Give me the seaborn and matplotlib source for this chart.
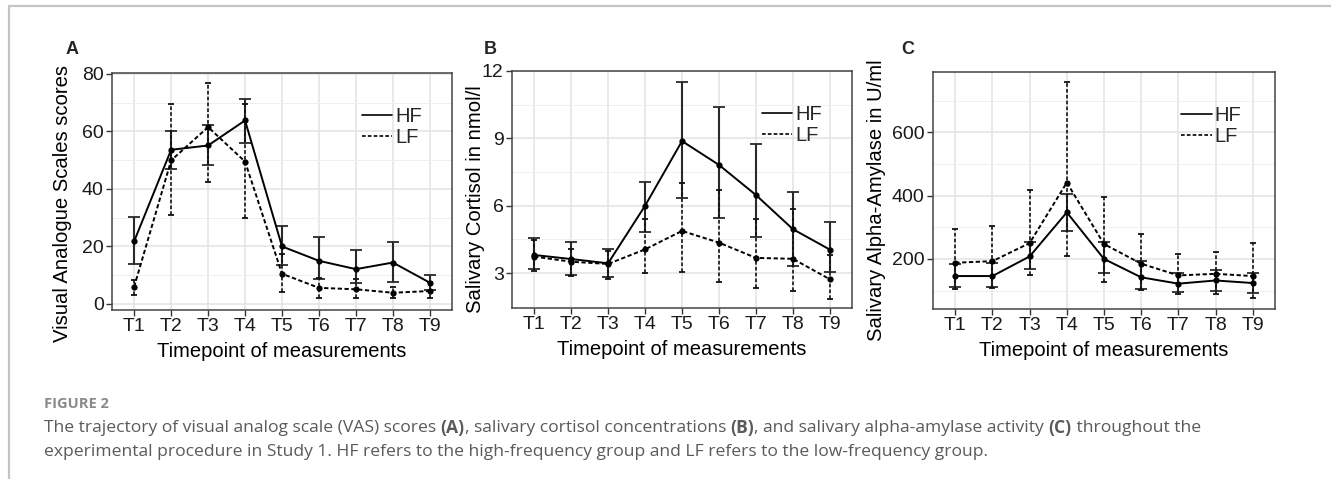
import numpy as np
import pandas as pd
import seaborn as sns
import matplotlib.pyplot as plt
from matplotlib.ticker import FixedLocator

timepoints = ["T1", "T2", "T3", "T4", "T5", "T6", "T7", "T8", "T9"]
groups = ["HF", "LF"]

# VAS scores (A)
vas_hf = [21.8, 53.6, 55.1, 63.8, 20.0, 15.0, 12.1, 14.4, 7.4]
vas_hf_lo = [13.9, 47.0, 48.4, 55.8, 13.5, 8.8, 7.4, 7.8, 4.7]
vas_hf_hi = [30.4, 60.2, 62.3, 71.2, 27.0, 23.3, 18.6, 21.4, 10.1]
vas_lf = [6.0, 49.9, 61.5, 49.5, 10.5, 5.6, 5.1, 3.9, 4.5]
vas_lf_lo = [3.2, 31.0, 42.3, 29.8, 4.0, 2.2, 2.0, 2.0, 1.9]
vas_lf_hi = [8.4, 69.4, 76.9, 69.6, 17.3, 9.0, 8.6, 5.8, 7.6]

# salivary cortisol (B)
cort_hf = [3.81, 3.63, 3.44, 6.0, 8.88, 7.82, 6.48, 4.96, 4.05]
cort_hf_lo = [3.17, 2.92, 2.82, 4.85, 6.36, 5.44, 4.63, 3.3, 3.06]
cort_hf_hi = [4.55, 4.38, 4.06, 7.08, 11.52, 10.41, 8.74, 6.62, 5.28]
cort_lf = [3.74, 3.51, 3.41, 4.06, 4.88, 4.36, 3.68, 3.64, 2.73]
cort_lf_lo = [3.11, 2.88, 2.75, 3.02, 3.05, 2.62, 2.33, 2.21, 1.87]
cort_lf_hi = [4.48, 4.08, 3.98, 5.4, 7.03, 6.7, 5.42, 5.84, 3.83]

# salivary alpha-amylase (C)
amy_hf = [146, 146, 208, 347, 200, 142, 122, 132, 124]
amy_hf_lo = [111, 113, 167, 289, 155, 106, 97, 99, 93]
amy_hf_hi = [185, 186, 255, 404, 255, 193, 156, 164, 156]
amy_lf = [188, 193, 250, 441, 247, 185, 148, 153, 146]
amy_lf_lo = [104, 109, 148, 210, 127, 102, 89, 89, 76]
amy_lf_hi = [294, 305, 416, 757, 394, 279, 217, 221, 250]

panels = [
    ("A", "Visual Analogue Scales scores",
     (vas_hf, vas_hf_lo, vas_hf_hi), (vas_lf, vas_lf_lo, vas_lf_hi),
     (-2.1, 80.3), [0, 20, 40, 60, 80], [10, 30, 50, 70]),
    ("B", "Salivary Cortisol in nmol/l",
     (cort_hf, cort_hf_lo, cort_hf_hi), (cort_lf, cort_lf_lo, cort_lf_hi),
     (1.45, 12.0), [3, 6, 9, 12], [4.5, 7.5, 10.5]),
    ("C", "Salivary Alpha-Amylase in U/ml",
     (amy_hf, amy_hf_lo, amy_hf_hi), (amy_lf, amy_lf_lo, amy_lf_hi),
     (42, 790), [200, 400, 600], [100, 300, 500, 700]),
]

sns.set_theme(style="white")
plt.rcParams["font.family"] = ["Liberation Sans", "DejaVu Sans"]

W, H = 1331, 479
fig = plt.figure(figsize=(W / 100, H / 100), dpi=100)

boxes = [(112, 73, 452, 310), (512, 71, 852, 308), (933, 72, 1275, 309)]
letter_x = [72, 490, 908]
legend_anchor = [(0.935, 0.89), (0.935, 0.89), (0.925, 0.89)]
ylabel_xy = [(-0.118, 0.45), (-0.08, 0.46), (-0.138, 0.46)]

for (letter, ylab, hf, lf, ylim, yt, ymin), (x0, y0, x1, y1), lx, anc, lxy in zip(
        panels, boxes, letter_x, legend_anchor, ylabel_xy):
    ax = fig.add_axes([x0 / W, 1 - y1 / H, (x1 - x0) / W, (y1 - y0) / H])
    rows = []
    for g, (m, lo, hi) in zip(groups, [hf, lf]):
        for i, t in enumerate(timepoints):
            rows.append({"x": i, "tp": t, "group": g, "mean": m[i], "lo": lo[i], "hi": hi[i]})
    df = pd.DataFrame(rows)

    for g, ls, col in [("HF", "-", "#2a2a2a"), ("LF", (0, (2.2, 1.3)), "#111111")]:
        d = df[df.group == g]
        eb = ax.errorbar(d["x"], d["mean"], yerr=[d["mean"] - d["lo"], d["hi"] - d["mean"]],
                         fmt="none", ecolor=col, elinewidth=1.5 if g == "HF" else 1.2,
                         capsize=4 if g == "HF" else 2.5, capthick=1.3, zorder=3)
        eb[2][0].set_linestyle(ls)

    sns.lineplot(data=df, x="x", y="mean", style="group", hue="group",
                 palette={"HF": "black", "LF": "black"},
                 dashes={"HF": "", "LF": (2.2, 1.3)}, markers={"HF": "o", "LF": "o"},
                 markersize=4.5, markeredgewidth=0, linewidth=1.4, ax=ax, zorder=4,
                 legend=True)

    ax.set_xlim(-0.6, 8.6)
    ax.set_ylim(*ylim)
    ax.xaxis.set_major_locator(FixedLocator(range(len(timepoints))))
    ax.set_xticklabels(timepoints)
    ax.yaxis.set_major_locator(FixedLocator(yt))
    ax.yaxis.set_minor_locator(FixedLocator(ymin))
    ax.grid(True, which="major", color="#e3e3e3", linewidth=1.1)
    ax.grid(True, which="minor", axis="y", color="#efefef", linewidth=0.7)
    ax.set_axisbelow(True)
    for s in ax.spines.values():
        s.set_color("#444444")
        s.set_linewidth(1.1)
    ax.tick_params(axis="both", which="major", length=4, width=1, color="#333333",
                   labelsize=14, labelcolor="#1a1a1a", left=True, bottom=True, pad=2)
    ax.tick_params(axis="y", which="minor", length=0)
    ax.set_xlabel("Timepoint of measurements", fontsize=14.5, color="black", labelpad=5)
    ax.set_ylabel(ylab, fontsize=14.6, color="black")
    ax.yaxis.set_label_coords(*lxy)

    handles, labels = ax.get_legend_handles_labels()
    leg = ax.legend(handles, labels, loc="upper right", bbox_to_anchor=anc,
                    frameon=False, fontsize=14.5, handlelength=1.5, handletextpad=0.15,
                    labelspacing=0.1, borderaxespad=0)
    for h in leg.get_lines():
        h.set_marker("")
        h.set_linewidth(1.2)

    fig.text(lx / W, 1 - 49 / H, letter, fontsize=13, fontweight="bold", ha="center", va="center")

# page frame
fig.add_artist(plt.Line2D([9 / W, 1], [1 - 6 / H, 1 - 6 / H], color="#c4c4c4", linewidth=1.6))
fig.add_artist(plt.Line2D([9 / W, 9 / W], [0, 1 - 6 / H], color="#c4c4c4", linewidth=1.6))

# caption
fig.text(44 / W, 1 - 404 / H, "FIGURE 2", fontsize=10.5, fontweight="bold", color="#8a8a8a",
         family=["Open Sans", "DejaVu Sans"], va="center")

cap_lines = [
    [("The trajectory of visual analog scale (VAS) scores ", False), ("(A)", True),
     (", salivary cortisol concentrations ", False), ("(B)", True),
     (", and salivary alpha-amylase activity ", False), ("(C)", True), (" throughout the", False)],
    [("experimental procedure in Study 1. HF refers to the high-frequency group and LF refers to the low-frequency group.", False)],
]
fig.canvas.draw()
renderer = fig.canvas.get_renderer()
for li, segs in enumerate(cap_lines):
    xpix = 44
    ypix = 428 + li * 24
    for txt, bold in segs:
        t = fig.text(xpix / W, 1 - ypix / H, txt, fontsize=12.6, color="#5a5a5a",
                     fontweight="bold" if bold else "normal",
                     family=["Open Sans", "DejaVu Sans"], va="center")
        bb = t.get_window_extent(renderer)
        xpix += bb.width

fig.savefig("out.png", dpi=100)
